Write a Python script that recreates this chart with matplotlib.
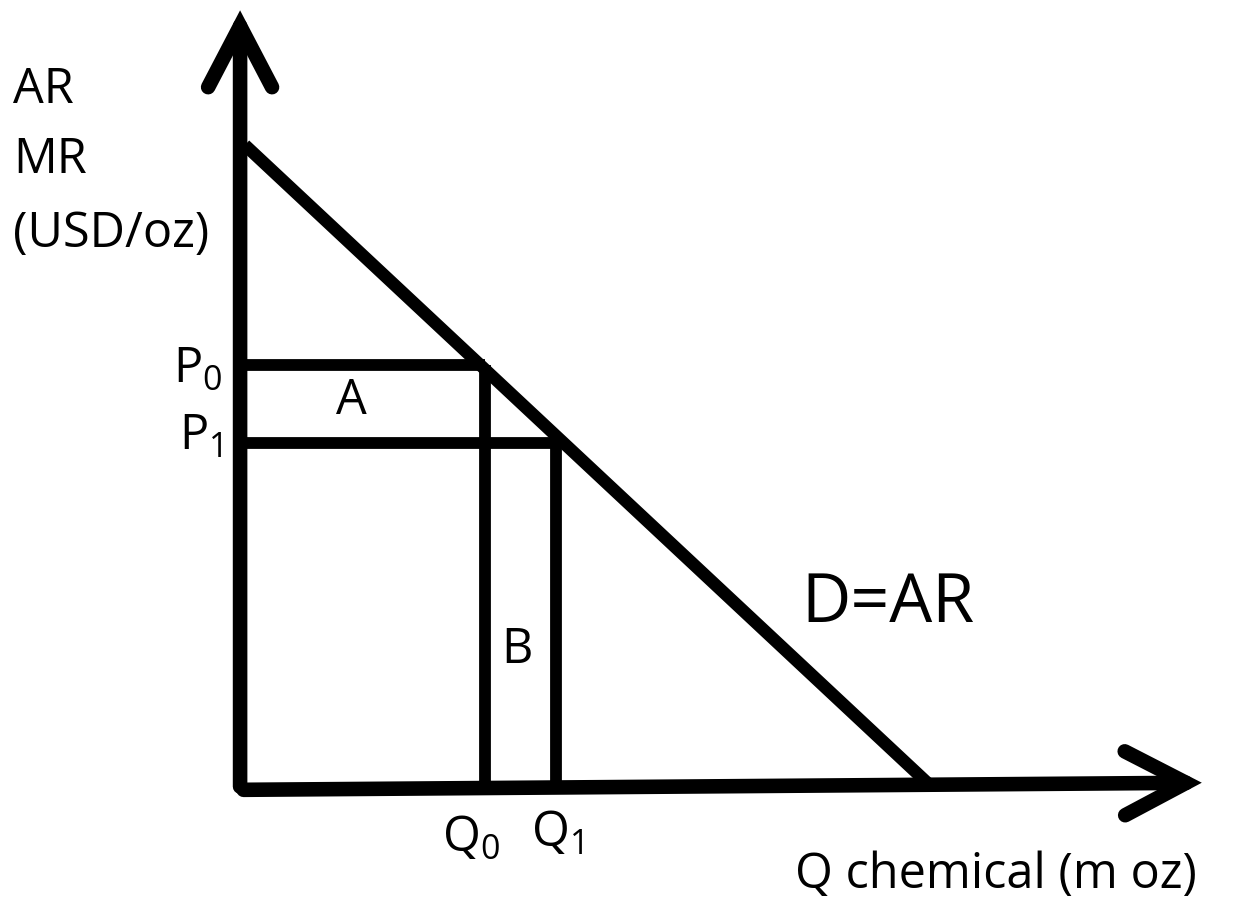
import matplotlib
matplotlib.use('Agg')
import matplotlib.pyplot as plt

plt.rcParams['font.family'] = ['Open Sans', 'DejaVu Sans']
plt.rcParams['mathtext.fontset'] = 'custom'
plt.rcParams['mathtext.rm'] = 'Open Sans'
plt.rcParams['mathtext.it'] = 'Open Sans'

# demand line end points (quantity, price)
demand_q = [0.07, 9.97]
demand_p = [10.0, 0.1]
# two price / quantity points on the demand curve
Q = [3.55, 4.58]
P = [6.59, 5.38]
q_labels = [r'Q$_0$', r'Q$_1$']
p_labels = [r'P$_0$', r'P$_1$']
y_label = ['AR', 'MR', '(USD/oz)']
x_label = 'Q chemical (m oz)'
demand_label = 'D=AR'

fig = plt.figure(figsize=(12.37, 9.02), dpi=100)
ax = fig.add_axes([0, 0, 1, 1])
ax.set_xlim(-3.48, 14.45)
ax.set_ylim(-1.74, 12.25)
ax.axis('off')

lw = 8.5
k = 'black'

# axes with open arrow heads
arr = dict(arrowstyle='->,head_length=2.2,head_width=1.15', lw=10.5, color=k,
           mutation_scale=20, shrinkA=0, shrinkB=0,
           capstyle='round', joinstyle='miter')
ax.annotate('', xy=(0, 12.09), xytext=(0, 0.05), arrowprops=arr)
ax.annotate('', xy=(13.94, 0.11), xytext=(0.05, 0), arrowprops=arr)

# demand
ax.plot(demand_q, demand_p, color=k, lw=9, solid_capstyle='butt')

# price and quantity lines
for q, p in zip(Q, P):
    ax.plot([0, q], [p, p], color=k, lw=lw, solid_capstyle='butt')
    ax.plot([q, q], [p, 0], color=k, lw=lw, solid_capstyle='butt')

fs = 35
q_pos = [(2.93, -0.96), (4.22, -0.88)]
for (x, y), lab in zip(q_pos, q_labels):
    ax.text(x, y, lab, fontsize=fs, ha='left', va='baseline')
for p, lab in zip([6.31, 5.27], p_labels):
    ax.text(-0.25, p, lab, fontsize=fs, ha='right', va='baseline')

ax.text(1.62, 6.02, 'A', fontsize=fs, ha='center', va='center')
ax.text(4.01, 2.17, 'B', fontsize=fs, ha='center', va='center')
ax.text(8.14, 2.6, demand_label, fontsize=49, ha='left', va='baseline')

for y, s in zip([10.65, 9.57, 8.42], y_label):
    ax.text(-3.29, y, s, fontsize=fs, ha='left', va='baseline')
ax.text(8.04, -1.52, x_label, fontsize=fs, ha='left', va='baseline')

fig.savefig('out.png', dpi=100)
